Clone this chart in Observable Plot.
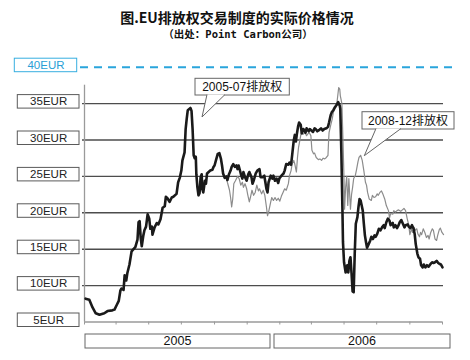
<!DOCTYPE html>
<html><head><meta charset="utf-8">
<script src="https://cdn.jsdelivr.net/npm/d3@7"></script>
<script src="https://cdn.jsdelivr.net/npm/@observablehq/plot@0.6"></script>
<style>
body{margin:0;background:#fff;width:470px;height:360px;overflow:hidden}
#head{position:relative;height:45px;width:470px}
#t1{position:absolute;top:9px;left:2px;width:470px;text-align:center;font:bold 14px/16px "Noto Sans CJK SC";color:#111}
#t2{position:absolute;top:27px;left:3px;width:470px;text-align:center;font:bold 10.5px/13px "Noto Sans CJK SC";color:#111}
#t2 .mono{font-family:"DejaVu Sans Mono",monospace}
#chart svg{display:block}
</style></head><body>
<div id="head"><div id="t1">图.EU排放权交易制度的实际价格情况</div><div id="t2">（出处：<span class="mono">Point Carbon</span>公司）</div></div>
<div id="chart"></div>
<script>
const seriesNames = ["2005-07排放权", "2008-12排放权"];
const years = ["2005", "2006"];
const yTicks = [40, 35, 30, 25, 20, 15, 10, 5];
const yTickLabels = ["40EUR", "35EUR", "30EUR", "25EUR", "20EUR", "15EUR", "10EUR", "5EUR"];

// 2005-07 allowances (EUR)
const dates0507 = [
"2005-01-03","2005-01-10","2005-01-16","2005-01-22","2005-01-29",
"2005-02-07","2005-02-13","2005-02-22","2005-02-26",
"2005-03-02","2005-03-06","2005-03-09","2005-03-11","2005-03-15","2005-03-17","2005-03-20","2005-03-22","2005-03-26","2005-03-30",
"2005-04-03","2005-04-06","2005-04-10","2005-04-12","2005-04-14","2005-04-16","2005-04-18","2005-04-21","2005-04-23","2005-04-26","2005-04-29",
"2005-05-02","2005-05-04","2005-05-07","2005-05-08","2005-05-12","2005-05-16","2005-05-19","2005-05-23","2005-05-27","2005-05-31",
"2005-06-02","2005-06-05","2005-06-09","2005-06-13","2005-06-16","2005-06-22","2005-06-25","2005-06-28",
"2005-07-01","2005-07-03","2005-07-07","2005-07-09","2005-07-11","2005-07-13","2005-07-18","2005-07-20","2005-07-22","2005-07-24","2005-07-26","2005-07-28","2005-07-29","2005-07-31",
"2005-08-02","2005-08-04","2005-08-06","2005-08-08","2005-08-09","2005-08-11","2005-08-14","2005-08-16","2005-08-18","2005-08-21","2005-08-24","2005-08-28","2005-08-30",
"2005-09-01","2005-09-04","2005-09-07","2005-09-10","2005-09-13","2005-09-15","2005-09-17","2005-09-20","2005-09-23","2005-09-25","2005-09-28",
"2005-10-01","2005-10-03","2005-10-06","2005-10-09","2005-10-12","2005-10-14","2005-10-16","2005-10-20","2005-10-23","2005-10-25","2005-10-28","2005-10-31",
"2005-11-03","2005-11-05","2005-11-09","2005-11-11","2005-11-13","2005-11-17","2005-11-20","2005-11-24","2005-11-26","2005-11-30",
"2005-12-03","2005-12-07","2005-12-09","2005-12-11","2005-12-15","2005-12-18","2005-12-20","2005-12-23","2005-12-26","2005-12-29","2005-12-31",
"2006-01-04","2006-01-08","2006-01-10","2006-01-13","2006-01-17","2006-01-19","2006-01-22","2006-01-24","2006-01-27","2006-01-29","2006-01-31",
"2006-02-02","2006-02-04","2006-02-06","2006-02-09","2006-02-11","2006-02-14","2006-02-16","2006-02-18","2006-02-20","2006-02-24","2006-02-26",
"2006-03-01","2006-03-04","2006-03-07","2006-03-09","2006-03-12","2006-03-16","2006-03-19","2006-03-22","2006-03-25","2006-03-29",
"2006-04-01","2006-04-03","2006-04-06","2006-04-08","2006-04-11","2006-04-14","2006-04-17","2006-04-20","2006-04-23","2006-04-24","2006-04-26","2006-04-28","2006-04-29",
"2006-05-01","2006-05-04","2006-05-07","2006-05-09","2006-05-11","2006-05-13","2006-05-15","2006-05-17","2006-05-19","2006-05-21","2006-05-23","2006-05-26","2006-05-28","2006-05-30",
"2006-06-01","2006-06-03","2006-06-05","2006-06-07","2006-06-09","2006-06-11","2006-06-13","2006-06-16","2006-06-19","2006-06-21","2006-06-24","2006-06-27","2006-06-29",
"2006-07-02","2006-07-05","2006-07-08","2006-07-11","2006-07-14","2006-07-16","2006-07-19","2006-07-22","2006-07-25","2006-07-27","2006-07-31",
"2006-08-02","2006-08-05","2006-08-08","2006-08-11","2006-08-13","2006-08-16","2006-08-19","2006-08-22","2006-08-24","2006-08-28","2006-08-30",
"2006-09-02","2006-09-05","2006-09-08","2006-09-10","2006-09-12","2006-09-15","2006-09-17","2006-09-20","2006-09-22","2006-09-25","2006-09-27","2006-09-30",
"2006-10-03","2006-10-06","2006-10-10","2006-10-13","2006-10-15","2006-10-18","2006-10-21","2006-10-24","2006-10-26","2006-10-29",
"2006-11-01"
];
const values0507 = [
8.2,8.05,7.0,6.2,6.0,
6.2,6.5,6.6,6.7,
7.3,7.9,9.3,9.6,9.4,11.4,10.7,11.7,12.9,14.7,
15.05,15.3,16.3,18.7,18.85,16.6,15.4,16.9,17.6,18.1,19.8,
19.2,17.8,18.1,17.0,18.0,18.6,18.4,19.1,20.7,20.9,
22.2,22.0,21.5,22.1,22.2,22.6,24.2,24.8,
25.8,27.2,28.3,31.5,32.9,34.1,34.4,34.0,31.5,27.9,27.5,27.7,25.3,23.5,
22.4,22.7,24.9,25.3,23.3,22.8,24.4,24.0,25.4,25.6,25.8,25.9,26.3,
26.5,27.3,28.1,28.2,27.4,26.5,25.4,24.8,25.0,24.5,25.3,
25.8,26.3,26.7,26.3,26.5,26.0,26.5,25.4,24.7,25.6,24.9,24.4,
25.3,25.6,24.9,24.0,24.4,25.4,25.8,26.0,24.9,24.9,
25.1,23.3,22.8,24.2,25.1,24.7,25.1,24.4,24.7,24.1,24.7,
25.1,25.4,25.8,26.7,26.6,26.9,26.6,27.9,29.9,30.7,29.8,
30.9,31.8,32.4,32.1,30.9,31.5,31.3,31.0,31.6,31.2,31.5,
31.3,31.1,31.6,31.5,31.2,31.4,31.6,31.3,31.5,31.6,
31.8,32.4,33.4,33.8,34.1,34.5,34.8,35.2,34.7,34.3,28.3,20.5,16.0,
13.2,11.8,12.8,11.8,13.4,13.9,11.7,9.2,9.1,14.4,18.5,19.4,20.8,21.9,
21.7,21.0,20.3,18.5,16.9,16.0,15.2,15.7,16.2,16.7,16.4,16.9,16.7,
17.1,17.8,17.6,18.0,18.3,17.9,18.7,19.2,18.9,18.3,18.6,
18.0,18.3,17.9,18.3,18.7,19.0,18.5,18.0,18.3,18.4,18.1,
17.9,18.3,17.8,17.1,15.7,14.4,13.9,13.7,12.8,12.5,12.9,12.5,
12.8,12.6,13.0,13.2,13.1,13.2,13.4,13.1,13.0,12.9,
12.5
];

// 2008-12 allowances (EUR)
const dates0812 = [
"2005-09-17","2005-09-20","2005-09-23","2005-09-25","2005-09-29",
"2005-10-01","2005-10-03","2005-10-05","2005-10-07","2005-10-10","2005-10-14","2005-10-17","2005-10-20","2005-10-23","2005-10-25","2005-10-28","2005-10-31",
"2005-11-02","2005-11-05","2005-11-07","2005-11-10","2005-11-13","2005-11-16","2005-11-19","2005-11-22","2005-11-24","2005-11-28",
"2005-12-01","2005-12-04","2005-12-07","2005-12-09","2005-12-11","2005-12-15","2005-12-17","2005-12-20","2005-12-23","2005-12-26","2005-12-29",
"2006-01-01","2006-01-04","2006-01-07","2006-01-10","2006-01-13","2006-01-17","2006-01-19","2006-01-22","2006-01-24","2006-01-27","2006-01-29",
"2006-02-01","2006-02-03","2006-02-05","2006-02-08","2006-02-10","2006-02-14","2006-02-17","2006-02-20","2006-02-22","2006-02-25","2006-02-28",
"2006-03-02","2006-03-05","2006-03-07","2006-03-10","2006-03-14","2006-03-17","2006-03-20","2006-03-23","2006-03-26","2006-03-29",
"2006-04-01","2006-04-02","2006-04-03","2006-04-06","2006-04-09","2006-04-11","2006-04-14","2006-04-17","2006-04-19","2006-04-21","2006-04-23","2006-04-24","2006-04-27","2006-04-29",
"2006-05-01","2006-05-02","2006-05-04","2006-05-06","2006-05-08","2006-05-10","2006-05-13","2006-05-15","2006-05-17","2006-05-19","2006-05-22","2006-05-24","2006-05-27","2006-05-29",
"2006-06-01","2006-06-04","2006-06-07","2006-06-10","2006-06-12","2006-06-14","2006-06-17","2006-06-21","2006-06-23","2006-06-26","2006-06-29",
"2006-07-02","2006-07-04","2006-07-07","2006-07-10","2006-07-13","2006-07-16","2006-07-19","2006-07-23","2006-07-25","2006-07-27","2006-07-31",
"2006-08-02","2006-08-05","2006-08-08","2006-08-11","2006-08-15","2006-08-18","2006-08-21","2006-08-24","2006-08-27","2006-08-30",
"2006-09-01","2006-09-04","2006-09-06","2006-09-09","2006-09-11","2006-09-14","2006-09-16","2006-09-19","2006-09-21","2006-09-23","2006-09-26","2006-09-29",
"2006-10-02","2006-10-05","2006-10-07","2006-10-10","2006-10-13","2006-10-15","2006-10-18","2006-10-21","2006-10-23","2006-10-26","2006-10-28","2006-10-31",
"2006-11-03"
];
const values0812 = [
25.4,24.8,25.0,24.2,23.1,
22.1,20.8,21.9,24.0,24.4,25.0,24.7,23.8,24.2,23.5,24.0,23.3,
22.5,21.5,22.1,23.1,22.4,22.8,23.8,23.0,23.3,22.6,
23.1,22.4,20.8,19.6,20.1,21.5,22.1,21.7,22.1,21.7,22.0,
21.6,22.3,22.8,23.3,23.1,24.0,25.1,25.8,26.7,27.2,26.7,
25.6,27.6,29.0,30.2,31.0,30.8,31.0,30.6,30.8,31.0,30.6,
28.6,28.1,28.2,27.6,27.3,27.4,27.2,27.5,27.4,27.6,
27.9,29.7,31.0,32.0,32.9,33.8,34.3,34.7,35.9,37.2,37.0,36.1,35.0,30.0,
24.5,20.5,23.5,25.0,21.0,24.7,20.5,22.5,23.5,24.7,25.1,25.8,27.0,27.6,
27.9,27.2,25.8,24.2,23.8,22.8,21.9,21.7,22.4,22.1,22.2,
22.6,22.4,22.8,23.0,22.5,21.9,21.0,20.3,19.3,19.9,19.8,
20.3,20.1,20.3,20.4,20.2,20.4,20.6,20.3,19.2,18.3,
17.0,17.8,17.3,18.0,17.6,17.8,17.1,16.7,17.3,17.0,17.8,17.3,
16.6,16.9,16.4,17.3,17.8,17.6,16.4,16.2,16.9,17.7,17.9,17.3,
17.0
];

const parse = d3.utcParse("%Y-%m-%d");
const s0507 = dates0507.map((d, i) => ({date: parse(d), value: values0507[i]}));
const s0812 = dates0812.map((d, i) => ({date: parse(d), value: values0812[i]}));
const x0 = parse("2005-01-01"), x1 = parse("2006-11-01");
const tickDates = d3.utcMonth.every(2).range(x0, d3.utcDay.offset(x1, 1));
const labelData = yTicks.map((v, i) => ({v, label: yTickLabels[i]}));
const gridValues = yTicks.filter(v => v !== 40 && v !== 5);

const chart = Plot.plot({
  width: 470, height: 315,
  marginLeft: 84, marginRight: 28, marginTop: 21.7, marginBottom: 38.5,
  x: {type: "utc", domain: [x0, x1], label: null},
  y: {domain: [5, 40], axis: null, label: null},
  style: {background: "transparent", fontFamily: "Liberation Sans, Arial, sans-serif"},
  marks: [
    Plot.ruleY(gridValues, {stroke: "#4d4d4d", strokeWidth: 1.4, insetLeft: -2, insetRight: -1}),
    Plot.ruleY([40], {stroke: "#2aa5dc", strokeWidth: 2, strokeDasharray: "8,6", insetLeft: -4, insetRight: -13}),
    Plot.ruleY([5], {stroke: "#9a9a9a", strokeWidth: 1.3}),
    Plot.ruleX([x0], {stroke: "#9a9a9a", strokeWidth: 1.3, insetTop: 18}),
    Plot.axisX({ticks: tickDates, tickSize: 3, tickFormat: () => "", stroke: "#9a9a9a", label: null}),
    Plot.line(s0812, {x: "date", y: "value", stroke: "#8c8c8c", strokeWidth: 1.2}),
    Plot.line(s0507, {x: "date", y: "value", stroke: "#1a1a1a", strokeWidth: 2.6})
  ]
});
document.getElementById("chart").appendChild(chart);

const svg = d3.select(chart);
const yS = chart.scale("y");
const font = "Liberation Sans, Arial, 'Noto Sans CJK SC', sans-serif";

// y tick label boxes and labels
const lg = svg.append("g");
labelData.forEach(d => {
  const yy = yS.apply(d.v);
  const blue = d.v === 40;
  const bx = blue ? 14.3 : 17.3, bw = blue ? 62.4 : 61.7;
  lg.append("rect")
    .attr("x", bx).attr("width", bw)
    .attr("y", yy - 8.5).attr("height", 13.5)
    .attr("fill", "#fff").attr("stroke", blue ? "#37aee0" : "#5a5a5a").attr("stroke-width", 1);
  lg.append("text").attr("x", bx + bw / 2 + 0.5).attr("y", yy - 1.75).attr("dy", "0.36em")
    .attr("text-anchor", "middle").attr("font-family", font).attr("font-size", 11.5)
    .attr("fill", blue ? "#2a9fd6" : "#222").text(d.label);
});

// year boxes
const yearBoxes = [[85, 270], [274, 450]];
const yg = svg.append("g");
years.forEach((yr, i) => {
  const [a, b] = yearBoxes[i];
  yg.append("rect").attr("x", a).attr("width", b - a).attr("y", 289).attr("height", 14)
    .attr("fill", "#fff").attr("stroke", "#666").attr("stroke-width", 1);
  yg.append("text").attr("x", (a + b) / 2).attr("y", 296).attr("dy", "0.35em")
    .attr("text-anchor", "middle").attr("font-family", font).attr("font-size", 12.5).attr("fill", "#111").text(yr);
});

// callouts
const callouts = [
  {box: [195, 33.3, 289.3, 50], tip: [202, 72], base: [207, 225]},
  {box: [362, 66.7, 454, 84], tip: [364.3, 110.7], base: [376, 401]}
];
const cg = svg.append("g");
callouts.forEach((c, i) => {
  const [bx0, by0, bx1, by1] = c.box;
  cg.append("rect").attr("x", bx0).attr("y", by0).attr("width", bx1 - bx0).attr("height", by1 - by0)
    .attr("fill", "#fff").attr("stroke", "#666").attr("stroke-width", 1);
  cg.append("path").attr("d", `M${c.base[0]},${by1 - 0.5}L${c.tip[0]},${c.tip[1]}L${c.base[1]},${by1 - 0.5}`)
    .attr("fill", "#fff").attr("stroke", "#666").attr("stroke-width", 1);
  cg.append("text").attr("x", (bx0 + bx1) / 2).attr("y", (by0 + by1) / 2).attr("dy", "0.36em")
    .attr("text-anchor", "middle").attr("font-family", font).attr("font-size", 12).attr("fill", "#111").text(seriesNames[i]);
});
</script>
</body></html>
